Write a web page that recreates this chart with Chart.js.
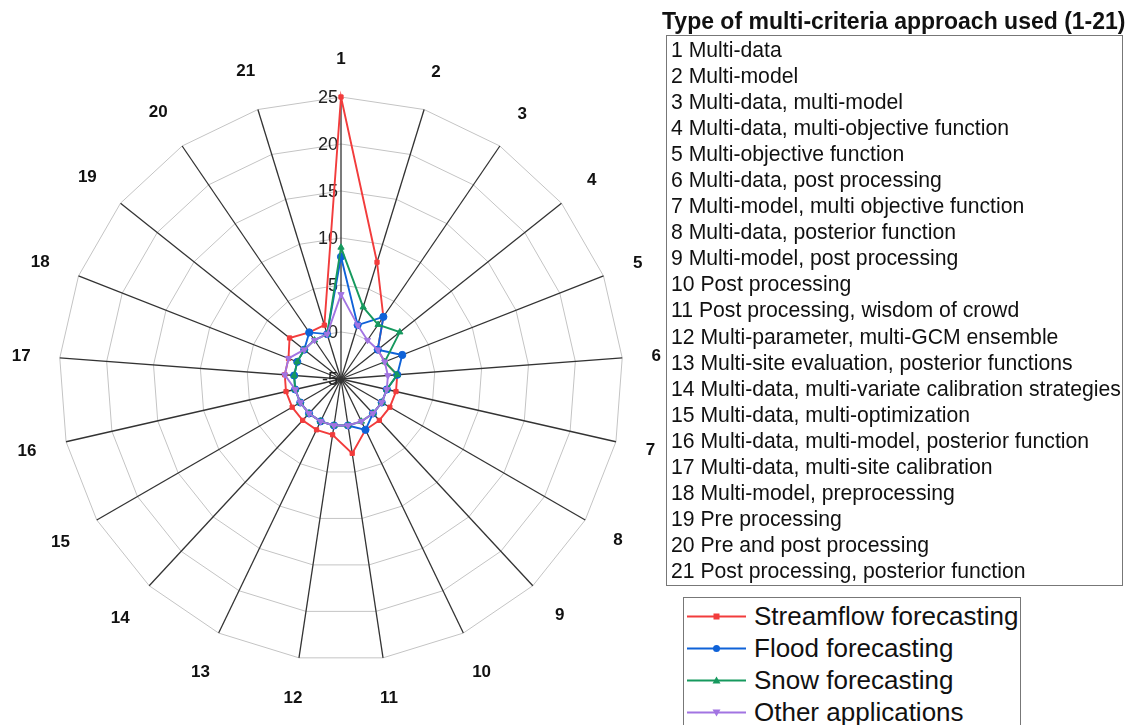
<!DOCTYPE html>
<html><head><meta charset="utf-8">
<script src="https://cdn.jsdelivr.net/npm/chart.js@4.4.1/dist/chart.umd.min.js"></script>
<style>
html,body{margin:0;padding:0;background:#fff;}
body{width:1139px;height:725px;position:relative;overflow:hidden;font-family:"Liberation Sans",Arial,sans-serif;color:#111;}
#wrap{position:absolute;left:0;top:0;width:680px;height:725px;}
#title{position:absolute;left:662px;top:8px;font-weight:bold;font-size:23px;line-height:27px;white-space:nowrap;}
#cats{position:absolute;left:666px;top:35px;width:457px;height:551px;box-sizing:border-box;border:1px solid #777;padding:1px 0 0 4px;}
#cats div{height:26.05px;line-height:26.05px;font-size:21.2px;white-space:nowrap;}
#series{position:absolute;left:683px;top:597px;width:338px;height:150px;box-sizing:border-box;border:1px solid #777;padding:2px 0 0 3px;}
.srow{height:32.2px;display:flex;align-items:center;font-size:26px;white-space:nowrap;}
.srow svg{flex:none;margin-right:7px;}
</style></head>
<body>
<div id="wrap"><canvas id="c"></canvas></div>
<div id="title">Type of multi-criteria approach used (1-21)</div>
<div id="cats"></div>
<div id="series"></div>
<script>
const categories = ['1','2','3','4','5','6','7','8','9','10','11','12','13','14','15','16','17','18','19','20','21'];
const approaches = ['Multi-data','Multi-model','Multi-data, multi-model','Multi-data, multi-objective function','Multi-objective function','Multi-data, post processing','Multi-model, multi objective function','Multi-data, posterior function','Multi-model, post processing','Post processing','Post processing, wisdom of crowd','Multi-parameter, multi-GCM ensemble','Multi-site evaluation, posterior functions','Multi-data, multi-variate calibration strategies','Multi-data, multi-optimization','Multi-data, multi-model, posterior function','Multi-data, multi-site calibration','Multi-model, preprocessing','Pre processing','Pre and post processing','Post processing, posterior function'];
const tickValues = [-5, 0, 5, 10, 15, 20, 25];
const streamflow = [25, 8, 3, 0, 0, 1, 1, 1, 1, 1, 3, 1, 1, 1, 1, 1, 1, 1, 2, 1, 1];
const flood      = [8, 1, 3, 0, 2, 1, 0, 0, 0, 1, 0, 0, 0, 0, 0, 0, 0, 0, 0, 1, 0];
const snow       = [9, 3, 2, 3, 0, 1, 0, 0, 0, 0, 0, 0, 0, 0, 0, 0, 0, 0, 0, 0, 0];
const other      = [4, 1, 0, 0, 0, 0, 0, 0, 0, 0, 0, 0, 0, 0, 0, 0, 1, 1, 0, 0, 0];
const seriesNames = ['Streamflow forecasting','Flood forecasting','Snow forecasting','Other applications'];
const seriesColors = ['#f23c3c','#0f62d8','#16995e','#a274e2'];
const seriesMarkers = ['rect','circle','triangle','triangleDown'];

const FONT = '"Liberation Sans", Arial, sans-serif';
const seriesData = [streamflow, flood, snow, other];
const datasets = seriesData.map((d, i) => ({
  label: seriesNames[i],
  data: d,
  borderColor: seriesColors[i],
  backgroundColor: seriesColors[i],
  borderWidth: 1.9,
  fill: false,
  tension: 0,
  pointStyle: seriesMarkers[i] === 'triangleDown' ? 'triangle' : seriesMarkers[i],
  rotation: seriesMarkers[i] === 'triangleDown' ? 180 : 0,
  pointRadius: seriesMarkers[i] === 'rect' ? 3 : 3.6,
  pointBorderWidth: 1,
  order: 3 - i
}));

const tickLabelPlugin = {
  id: 'tickLabels',
  beforeDatasetsDraw(chart) {
    const s = chart.scales.r, ctx = chart.ctx;
    ctx.save();
    ctx.font = '18px ' + FONT;
    ctx.fillStyle = '#222';
    ctx.textAlign = 'right';
    ctx.textBaseline = 'middle';
    tickValues.forEach(v => {
      const d = s.getDistanceFromCenterForValue(v);
      ctx.fillText(String(v), s.xCenter - 3, s.yCenter - d + 1);
    });
    ctx.restore();
  }
};
const categoryLabelPlugin = {
  id: 'categoryLabels',
  afterDraw(chart) {
    const s = chart.scales.r, ctx = chart.ctx;
    ctx.save();
    ctx.font = 'bold 17px ' + FONT;
    ctx.fillStyle = '#111';
    ctx.textAlign = 'center';
    ctx.textBaseline = 'middle';
    categories.forEach((c, i) => {
      const a = s.getIndexAngle(i);
      const w = ctx.measureText(c).width;
      const dist = s.drawingArea + 28.5 + Math.abs(Math.sin(a)) * w / 2 + Math.abs(Math.cos(a)) * 10.5;
      const p = s.getPointPosition(i, dist);
      ctx.fillText(c, p.x, p.y + 1);
    });
    ctx.restore();
  }
};

new Chart(document.getElementById('c'), {
  type: 'radar',
  data: { labels: categories, datasets },
  options: {
    responsive: true,
    maintainAspectRatio: false,
    animation: false,
    layout: { padding: { left: 59, right: 57, top: 97, bottom: 64 } },
    plugins: { legend: { display: false }, tooltip: { enabled: false } },
    scales: {
      r: {
        min: tickValues[0],
        max: tickValues[tickValues.length - 1],
        ticks: { stepSize: 5, display: false },
        grid: { color: '#c4c4c4', lineWidth: 1 },
        angleLines: { color: '#333', lineWidth: 1.3 },
        pointLabels: { display: false }
      }
    }
  },
  plugins: [tickLabelPlugin, categoryLabelPlugin]
});

// category list
const cats = document.getElementById('cats');
approaches.forEach((a, i) => {
  const d = document.createElement('div');
  d.textContent = categories[i] + ' ' + a;
  cats.appendChild(d);
});
// series legend
function markerSvg(type, color) {
  let m = '';
  if (type === 'rect') m = `<rect x="26.5" y="6.5" width="6" height="6" fill="${color}"/>`;
  else if (type === 'circle') m = `<circle cx="29.5" cy="9.5" r="3.5" fill="${color}"/>`;
  else if (type === 'triangle') m = `<polygon points="29.5,5.5 33.5,12.5 25.5,12.5" fill="${color}"/>`;
  else m = `<polygon points="25.5,6.5 33.5,6.5 29.5,13.5" fill="${color}"/>`;
  return `<svg width="60" height="19" viewBox="0 0 60 19"><line x1="0" y1="9.5" x2="59" y2="9.5" stroke="${color}" stroke-width="2"/>${m}</svg>`;
}
const series = document.getElementById('series');
seriesNames.forEach((n, i) => {
  const r = document.createElement('div');
  r.className = 'srow';
  r.innerHTML = markerSvg(seriesMarkers[i], seriesColors[i]);
  const t = document.createElement('span');
  t.textContent = n;
  r.appendChild(t);
  series.appendChild(r);
});
</script>
</body></html>
